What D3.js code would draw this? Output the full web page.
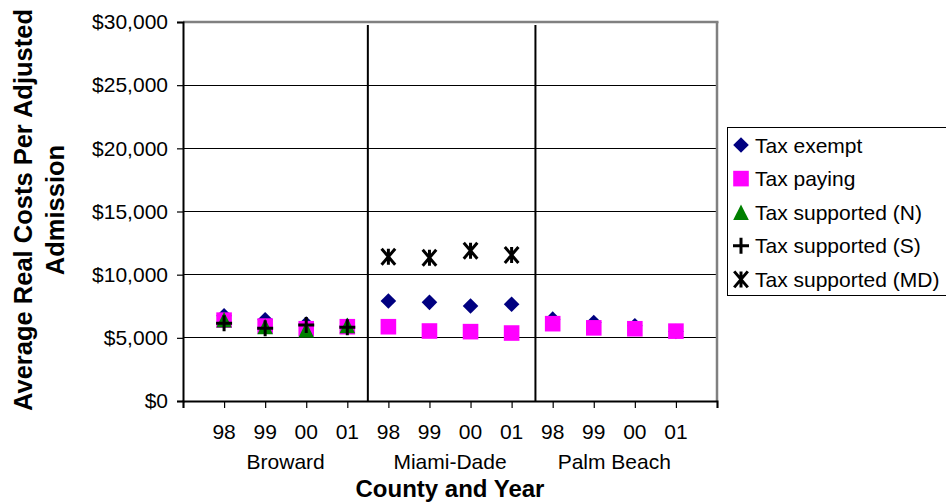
<!DOCTYPE html>
<html>
<head>
<meta charset="utf-8">
<script src="https://cdn.jsdelivr.net/npm/d3@7"></script>
<style>
  html, body { margin: 0; padding: 0; background: #fff; }
  svg text { font-family: "Liberation Sans", Arial, sans-serif; }
</style>
</head>
<body>
<svg id="chart" width="946" height="502"></svg>
<script>
// ---- data ----
const years = ["98", "99", "00", "01"];
const counties = ["Broward", "Miami-Dade", "Palm Beach"];
const yTicks = [0, 5000, 10000, 15000, 20000, 25000, 30000];
const taxExempt   = [6750, 6430, 6100, 5950, 7920, 7810, 7520, 7660, 6480, 6210, 5950, 5500];
const taxPaying   = [6400, 5930, 5720, 5880, 5880, 5540, 5490, 5380, 6120, 5790, 5720, 5530];
const taxSupN     = [6430, 5900, 5640, 5990, null, null, null, null, null, null, null, null];
const taxSupS     = [6150, 5760, 6020, 5830, null, null, null, null, null, null, null, null];
const taxSupMD    = [null, null, null, null, 11420, 11340, 11900, 11560, null, null, null, null];
const separators  = [4.5, 8.58]; // category-index positions of county dividers
const seriesNames = ["Tax exempt", "Tax paying", "Tax supported (N)", "Tax supported (S)", "Tax supported (MD)"];

// ---- layout ----
const svg = d3.select("#chart");
const L = 183, R = 717, T = 22, B = 401;
const nSlots = years.length * counties.length + 2; // blank slot at each end
const x = d3.scaleLinear().domain([0, nSlots - 1]).range([L, R]);
const y = d3.scaleLinear().domain([0, 30000]).range([B, T]);

// gridlines
svg.append("g").selectAll("line").data(yTicks.filter(v => v > 0 && v < 30000)).join("line")
  .attr("x1", L).attr("x2", R).attr("y1", d => y(d)).attr("y2", d => y(d))
  .attr("stroke", "#000").attr("stroke-width", 1).attr("shape-rendering", "crispEdges");

// plot border (top / right) gray
svg.append("line").attr("x1", L).attr("x2", R + 1.5).attr("y1", T).attr("y2", T)
  .attr("stroke", "#808080").attr("stroke-width", 2.5);
svg.append("line").attr("x1", R).attr("x2", R).attr("y1", T).attr("y2", B)
  .attr("stroke", "#808080").attr("stroke-width", 2.5);

// separators
svg.append("g").selectAll("line").data(separators).join("line")
  .attr("x1", d => x(d)).attr("x2", d => x(d)).attr("y1", T + 3).attr("y2", B)
  .attr("stroke", "#000").attr("stroke-width", 2);

// y axis
const yAxis = d3.axisLeft(y).tickValues(yTicks).tickSize(6).tickPadding(9)
  .tickFormat(d => "$" + d3.format(",")(d));
const gy = svg.append("g").attr("transform", `translate(${L},0)`).call(yAxis);
gy.select(".domain").attr("stroke", "#000").attr("stroke-width", 2);
gy.selectAll(".tick line").attr("stroke", "#000").attr("stroke-width", 1.2);
gy.selectAll(".tick text").attr("font-size", 21).attr("fill", "#000")
  .attr("font-family", "Liberation Sans, Arial, sans-serif");

// x axis
const xAxis = d3.axisBottom(x).tickValues(d3.range(nSlots)).tickSize(7).tickFormat("");
const gx = svg.append("g").attr("transform", `translate(0,${B})`).call(xAxis);
gx.select(".domain").attr("stroke", "#000").attr("stroke-width", 2);
gx.selectAll(".tick line").attr("stroke", "#000").attr("stroke-width", 1.2);

// year labels
const yearLabels = [];
counties.forEach((c, ci) => years.forEach((yr, yi) => yearLabels.push({ idx: ci * years.length + yi + 1, yr })));
svg.append("g").selectAll("text").data(yearLabels).join("text")
  .attr("x", d => x(d.idx)).attr("y", 439)
  .attr("text-anchor", "middle").attr("font-size", 21).text(d => d.yr);

// county labels
svg.append("g").selectAll("text").data(counties).join("text")
  .attr("x", (d, i) => x(i * years.length + 1 + (years.length - 1) / 2)).attr("y", 469)
  .attr("text-anchor", "middle").attr("font-size", 21).text(d => d);

// axis titles
svg.append("text").attr("x", (L + R) / 2).attr("y", 497).attr("text-anchor", "middle")
  .attr("font-size", 24).attr("font-weight", "bold").text("County and Year");
const yt = svg.append("text").attr("transform", "translate(0,210) rotate(-90)")
  .attr("text-anchor", "middle").attr("font-size", 25.5).attr("font-weight", "bold");
yt.append("tspan").attr("x", 0).attr("y", 32).text("Average Real Costs Per Adjusted");
yt.append("tspan").attr("x", 0).attr("y", 64).text("Admission");

// markers
function diamondPath(s) { return `M0,${-s}L${s},0L0,${s}L${-s},0Z`; }
function squarePath(s) { return `M${-s},${-s}H${s}V${s}H${-s}Z`; }
function trianglePath(s) { return `M0,${-s}L${s},${s}L${-s},${s}Z`; }
function plusPath(s) { return `M${-s},0H${s}M0,${-s}V${s}`; }
function starPath(s) { const a = s * 0.85; return `M${-a},${-s}L${a},${s}M${a},${-s}L${-a},${s}M0,${-s}V${s}`; }

const series = [
  { name: seriesNames[0], vals: taxExempt, path: diamondPath(7.8), fill: "#000080", stroke: "none" },
  { name: seriesNames[1], vals: taxPaying, path: squarePath(7.8), fill: "#FF00FF", stroke: "none" },
  { name: seriesNames[2], vals: taxSupN, path: trianglePath(7.8), fill: "#008000", stroke: "none" },
  { name: seriesNames[3], vals: taxSupS, path: plusPath(8), fill: "none", stroke: "#000" },
  { name: seriesNames[4], vals: taxSupMD, path: starPath(8), fill: "none", stroke: "#000" }
];

series.forEach(s => {
  svg.append("g").selectAll("path")
    .data(s.vals.map((v, i) => ({ v, i: i + 1 })).filter(d => d.v != null)).join("path")
    .attr("transform", d => `translate(${x(d.i)},${y(d.v)})`)
    .attr("d", s.path).attr("fill", s.fill).attr("stroke", s.stroke)
    .attr("stroke-width", s.stroke === "none" ? 0 : 3);
});

// legend
const lg = svg.append("g");
lg.append("rect").attr("x", 727.5).attr("y", 127.5).attr("width", 240).attr("height", 168)
  .attr("fill", "#fff").attr("stroke", "#000").attr("stroke-width", 1);
series.forEach((s, i) => {
  const cy = 145 + i * 33.6;
  lg.append("path").attr("transform", `translate(741,${cy})`).attr("d", s.path)
    .attr("fill", s.fill).attr("stroke", s.stroke).attr("stroke-width", s.stroke === "none" ? 0 : 3);
  lg.append("text").attr("x", 755).attr("y", cy + 7.5).attr("font-size", 21).text(s.name);
});
</script>
</body>
</html>
